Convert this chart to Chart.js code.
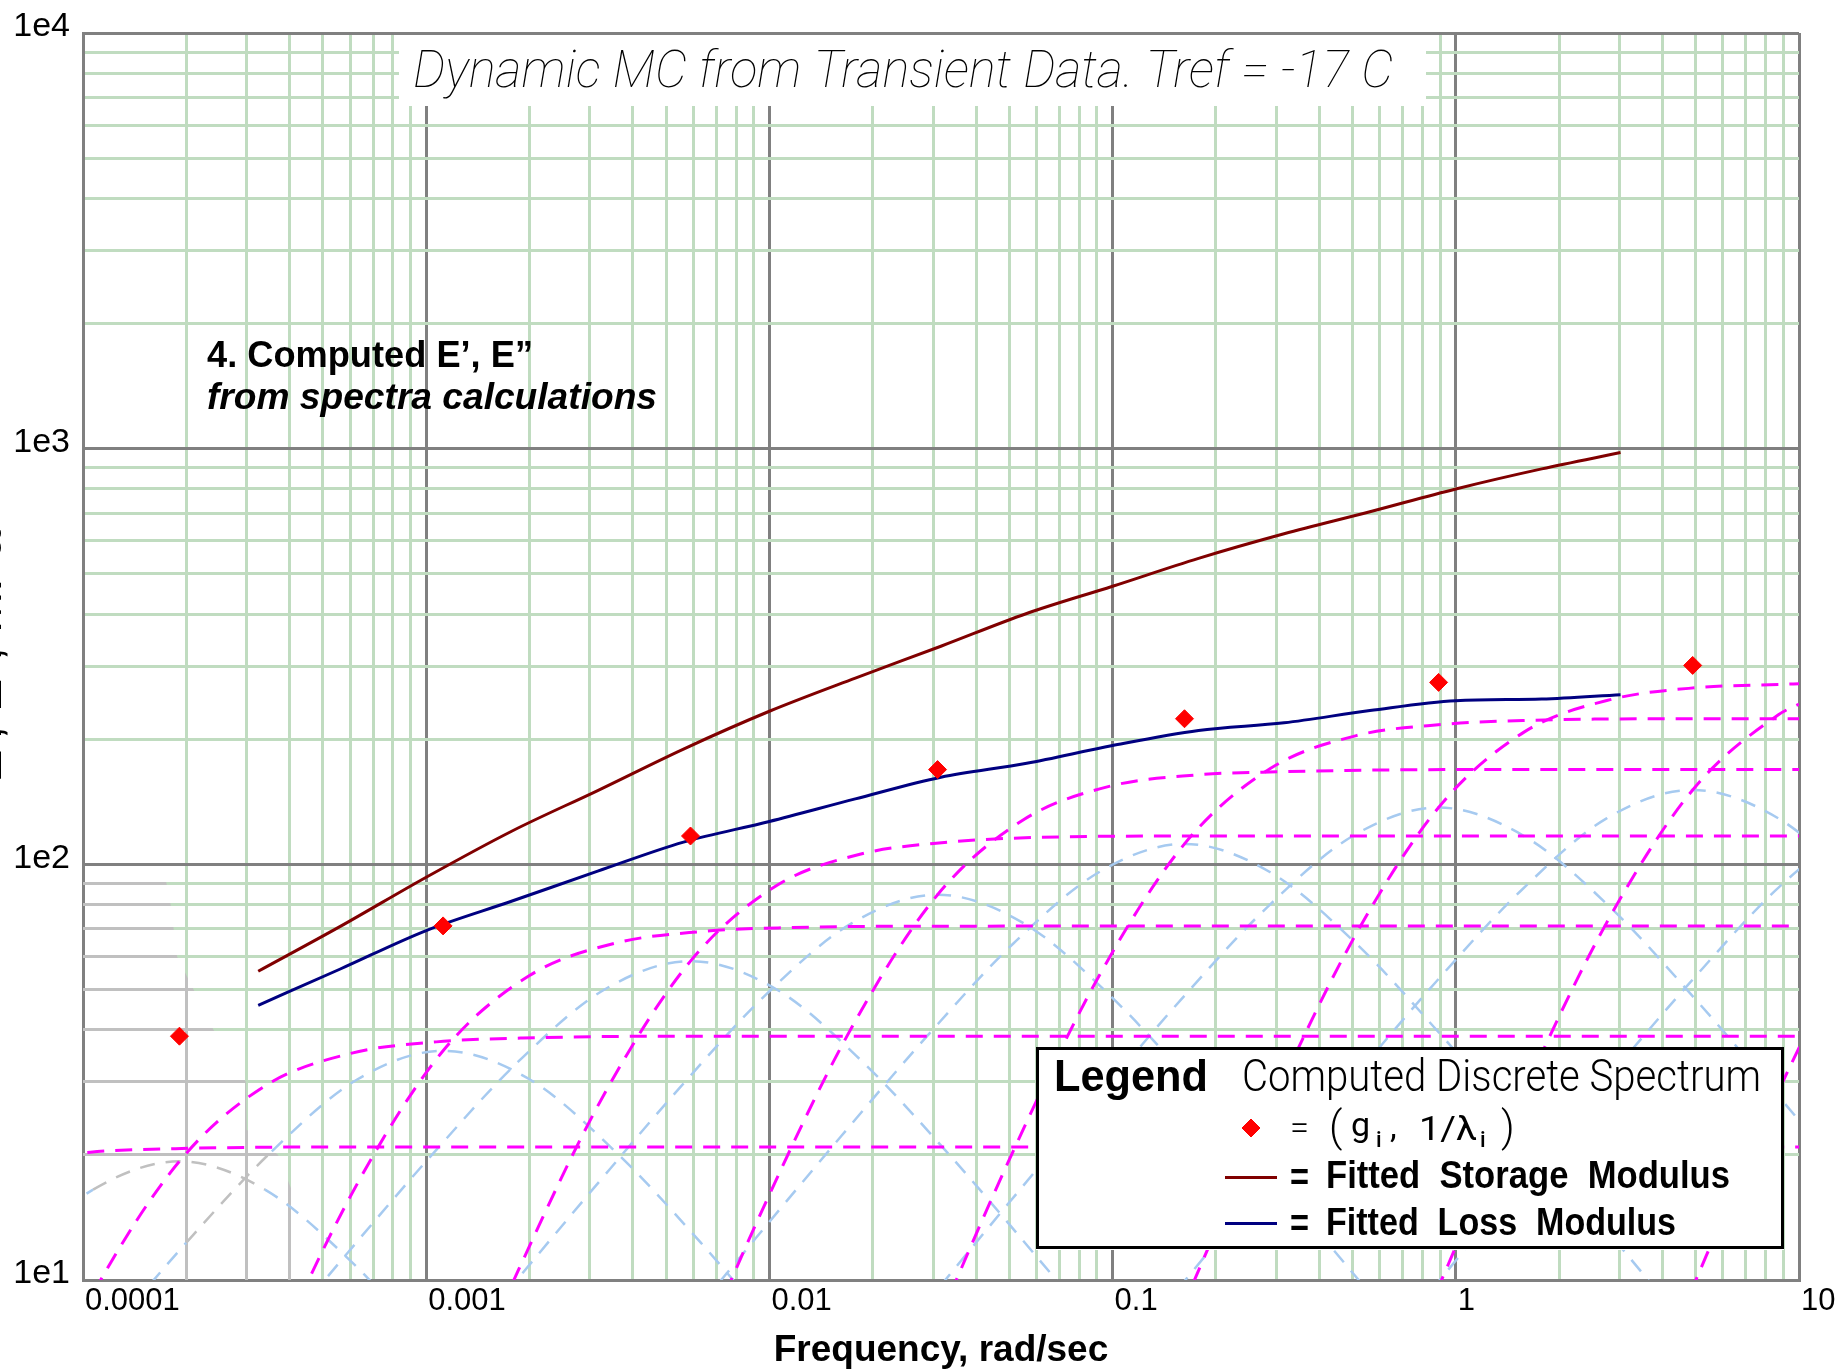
<!DOCTYPE html>
<html lang="en">
<head>
<meta charset="utf-8">
<title>Dynamic MC from Transient Data</title>
<script src="https://cdn.jsdelivr.net/npm/chart.js@4.4.1/dist/chart.umd.min.js"></script>
<style>
    html, body { margin: 0; padding: 0; background: #ffffff; }
    #chartBox { width: 1838px; height: 1370px; }
</style>
</head>
<body>
<div id="chartBox"><canvas id="modulusChart" width="1838" height="1370"></canvas></div>
<script>
// Axis decades and the labels printed at them
const xDecades = [1e-4, 1e-3, 1e-2, 1e-1, 1, 10];
const xTickLabels = ["0.0001", "0.001", "0.01", "0.1", "1", "10"];
const yDecades = [1e1, 1e2, 1e3, 1e4];
const yTickLabels = ["1e1", "1e2", "1e3", "1e4"];

// Computed discrete spectrum: 1/lambda_i (rad/sec) against g_i
const spectrumFreq = [1.91e-4, 1.12e-3, 5.89e-3, 3.09e-2, 0.162, 0.891, 4.9];
const spectrumG = [38.6, 71.1, 117, 169, 224, 274, 301];

// Fitted E' (storage) and E'' (loss)
const fitFreq = [3.24e-4, 5.62e-4, 1e-3, 1.78e-3, 3.16e-3, 5.62e-3, 0.01, 0.0178, 0.0316, 0.0562, 0.1, 0.178, 0.316, 0.562, 1, 1.78, 3.02];
const fitStorage = [55.3, 70.9, 93.1, 120.3, 150.5, 189.4, 233.5, 280.6, 334.7, 401.3, 466.7, 544.7, 624.2, 704.9, 799.9, 894.0, 978.7];
const fitLoss = [45.8, 56.0, 69.3, 81.6, 96.3, 113.1, 126.8, 143.7, 162.0, 175.0, 193.1, 209.9, 219.0, 234.4, 247.6, 249.8, 256.0];

// Storage part of each spectrum line, [freq, modulus]
const storageLine0 = [[5.89e-5, 19.0], [1.05e-4, 20.3], [1.86e-4, 20.7], [5.89e-4, 20.9], [10, 20.9]];
const storageLine1 = [[3.39e-5, 1.18], [6.03e-5, 3.51], [1.07e-4, 9.28], [1.91e-4, 19.3], [3.39e-4, 29.3], [6.03e-4, 35.1], [1.07e-3, 37.4], [1.91e-3, 38.2], [6.03e-3, 38.6], [10, 38.6]];
const storageLine2 = [[2.0e-4, 2.18], [3.55e-4, 6.46], [6.31e-4, 17.1], [1.12e-3, 35.6], [2.0e-3, 54.0], [3.55e-3, 64.6], [6.31e-3, 68.9], [1.12e-2, 70.4], [3.55e-2, 71.0], [10, 71.1]];
const storageLine3 = [[5.89e-4, 1.16], [1.05e-3, 3.58], [1.86e-3, 10.6], [3.31e-3, 28.1], [5.89e-3, 58.5], [1.05e-2, 88.9], [1.86e-2, 106], [3.31e-2, 113], [5.89e-2, 116], [0.186, 117], [10, 117]];
const storageLine4 = [[3.09e-3, 1.67], [5.5e-3, 5.17], [9.77e-3, 15.4], [1.74e-2, 40.6], [3.09e-2, 84.5], [5.5e-2, 128], [9.77e-2, 154], [0.174, 164], [0.309, 167], [0.977, 169], [10, 169]];
const storageLine5 = [[1.62e-2, 2.22], [2.88e-2, 6.85], [5.13e-2, 20.4], [9.12e-2, 53.8], [0.162, 112], [0.288, 170], [0.513, 204], [0.912, 217], [1.62, 222], [5.13, 224], [10, 224]];
const storageLine6 = [[8.91e-2, 2.71], [0.158, 8.38], [0.282, 24.9], [0.501, 65.8], [0.891, 137], [1.58, 208], [2.82, 249], [5.01, 266], [8.91, 271], [10, 272]];
const storageLine7 = [[0.49, 2.98], [0.871, 9.21], [1.55, 27.4], [2.75, 72.3], [4.9, 151], [8.71, 229], [10, 243]];
const storageLine8 = [[2.69, 2.97], [4.79, 9.18], [8.51, 27.3], [15.1, 72.1]];

// Loss part of each spectrum line, [freq, modulus]
const lossLine1 = [[3.39e-5, 6.65], [6.03e-5, 11.1], [1.07e-4, 16.5], [1.91e-4, 19.3], [3.39e-4, 16.5], [6.03e-4, 11.1], [1.07e-3, 6.65]];
const lossLine2 = [[1.12e-4, 7.04], [2.0e-4, 12.3], [3.55e-4, 20.4], [6.31e-4, 30.4], [1.12e-3, 35.6], [2.0e-3, 30.4], [3.55e-3, 20.4], [6.31e-3, 12.3], [1.12e-2, 7.04]];
const lossLine3 = [[3.31e-4, 6.56], [5.89e-4, 11.6], [1.05e-3, 20.2], [1.86e-3, 33.6], [3.31e-3, 50.0], [5.89e-3, 58.5], [1.05e-2, 50.0], [1.86e-2, 33.6], [3.31e-2, 20.2], [5.89e-2, 11.6], [0.105, 6.56]];
const lossLine4 = [[9.77e-4, 5.34], [1.74e-3, 9.48], [3.09e-3, 16.7], [5.5e-3, 29.1], [9.77e-3, 48.6], [1.74e-2, 72.2], [3.09e-2, 84.5], [5.5e-2, 72.2], [9.77e-2, 48.6], [0.174, 29.1], [0.309, 16.7], [0.55, 9.48], [0.977, 5.34]];
const lossLine5 = [[5.13e-3, 7.08], [9.12e-3, 12.6], [1.62e-2, 22.2], [2.88e-2, 38.6], [5.13e-2, 64.4], [9.12e-2, 95.7], [0.162, 112], [0.288, 95.7], [0.513, 64.4], [0.912, 38.6], [1.62, 22.2], [2.88, 12.6], [5.13, 7.08]];
const lossLine6 = [[2.82e-2, 8.66], [5.01e-2, 15.4], [8.91e-2, 27.1], [0.158, 47.2], [0.282, 78.8], [0.501, 117], [0.891, 137], [1.58, 117], [2.82, 78.8], [5.01, 47.2], [8.91, 27.1], [15.8, 15.4]];
const lossLine7 = [[0.155, 9.51], [0.275, 16.9], [0.49, 29.8], [0.871, 51.9], [1.55, 86.5], [2.75, 129], [4.9, 151], [8.71, 129], [15.5, 86.5]];
const lossLine8 = [[0.851, 9.48], [1.51, 16.8], [2.69, 29.7], [4.79, 51.7], [8.51, 86.3], [15.1, 128]];

// Lower-left patch where grid and loss traces come out grey, [freq, modulus]
const greyPatch = [[1e-4, 97], [1.72e-4, 97], [1.8e-4, 80], [1.88e-4, 60], [2.1e-4, 50], [2.4e-4, 40], [2.98e-4, 30], [3.0e-4, 23], [3.7e-4, 20], [4.05e-4, 16.5], [4.05e-4, 10], [1e-4, 10]];

const AXIS_GRAY = "#808080";
const GRID_GREEN = "#c0dcc0";
const PATCH_GRAY = "#c0c0c0";
const MAGENTA = "#ff00ff";
const SKY = "#a6caf0";
const STORAGE_RED = "#800000";
const LOSS_NAVY = "#000080";
const POINT_RED = "#ff0000";

const NARROW = '"Liberation Sans Narrow", "Arial Narrow", "Liberation Sans", Arial, sans-serif';
const ARIAL = '"Liberation Sans", Arial, sans-serif';
const LIGHT = 'Roboto, "Open Sans", "Liberation Sans", sans-serif';

let greyPatchPx = [];

function isDecade(value, decades) {
    return decades.some((d) => Math.abs(value / d - 1) < 1e-6);
}

function logTicks(decades) {
    const values = [];
    decades.forEach((d, i) => {
        if (i === decades.length - 1) {
            values.push(d);
            return;
        }
        for (let m = 1; m < 10; m++) values.push(d * m);
    });
    return values.map((value) => ({ value }));
}

function decadeLabel(value, decades, labels) {
    const i = decades.findIndex((d) => Math.abs(value / d - 1) < 1e-6);
    return i >= 0 ? labels[i] : "";
}

const toPoints = (pairs) => pairs.map(([x, y]) => ({ x, y }));

function insidePatch(px, py) {
    let inside = false;
    for (let i = 0, j = greyPatchPx.length - 1; i < greyPatchPx.length; j = i++) {
        const [xi, yi] = greyPatchPx[i];
        const [xj, yj] = greyPatchPx[j];
        if (yi > py !== yj > py && px < ((xj - xi) * (py - yi)) / (yj - yi) + xi) {
            inside = !inside;
        }
    }
    return inside;
}

// draw text squeezed or stretched to a given width
function fitText(ctx, text, x, y, width, font) {
    ctx.save();
    ctx.font = font;
    const w = ctx.measureText(text).width;
    ctx.translate(x, y);
    ctx.scale(width / w, 1);
    ctx.fillText(text, 0, 0);
    ctx.restore();
}

function plainText(ctx, text, x, y, font) {
    ctx.font = font;
    ctx.fillText(text, x, y);
}

const alignLine = (px, width) => Math.round(px - width / 2) + width / 2;

const decorPlugin = {
    id: "decor",
    afterLayout(chart) {
        const { x, y } = chart.scales;
        greyPatchPx = greyPatch.map(([f, g]) => [x.getPixelForValue(f), y.getPixelForValue(g)]);
    },
    beforeDatasetsDraw(chart) {
        const { ctx, chartArea, scales } = chart;

        // grey grid inside the lower-left patch
        ctx.save();
        ctx.beginPath();
        greyPatchPx.forEach(([px, py], i) => (i ? ctx.lineTo(px, py) : ctx.moveTo(px, py)));
        ctx.closePath();
        ctx.clip();
        ctx.strokeStyle = PATCH_GRAY;
        ctx.lineWidth = 3;
        ctx.beginPath();
        scales.x.ticks.forEach((t) => {
            if (isDecade(t.value, xDecades)) return;
            const px = alignLine(scales.x.getPixelForValue(t.value), 3);
            ctx.moveTo(px, chartArea.top);
            ctx.lineTo(px, chartArea.bottom);
        });
        scales.y.ticks.forEach((t) => {
            if (isDecade(t.value, yDecades)) return;
            const py = alignLine(scales.y.getPixelForValue(t.value), 3);
            ctx.moveTo(chartArea.left, py);
            ctx.lineTo(chartArea.right, py);
        });
        ctx.stroke();
        ctx.restore();

        // title panel
        ctx.save();
        ctx.fillStyle = "#ffffff";
        ctx.fillRect(399, chartArea.top + 2, 1027, 71);
        ctx.fillStyle = "#000000";
        ctx.textBaseline = "alphabetic";
        fitText(ctx, "Dynamic MC from Transient Data. Tref = -17 C", 413, 87, 980, `italic 100 52px ${LIGHT}`);
        ctx.restore();
    },
    afterDatasetsDraw(chart) {
        const { ctx } = chart;
        ctx.save();
        ctx.fillStyle = "#000000";
        ctx.textBaseline = "alphabetic";
        fitText(ctx, "4. Computed E\u2019, E\u201d", 207, 367, 326, `bold 36px ${ARIAL}`);
        fitText(ctx, "from spectra calculations", 207, 409, 450, `italic bold 36px ${ARIAL}`);
        ctx.restore();
    },
    afterDraw(chart) {
        const { ctx } = chart;
        const [spectrum, storage, loss] = chart.data.datasets;
        ctx.save();
        ctx.fillStyle = "#ffffff";
        ctx.fillRect(1036, 1047, 748, 203);
        ctx.strokeStyle = "#000000";
        ctx.lineWidth = 3;
        ctx.strokeRect(1037.5, 1048.5, 745, 199);

        ctx.fillStyle = "#000000";
        ctx.textBaseline = "alphabetic";
        fitText(ctx, "Legend", 1054, 1091, 154, `bold 45px ${NARROW}`);
        fitText(ctx, "Computed Discrete Spectrum", 1242, 1091, 519, `300 44px ${LIGHT}`);

        // spectrum marker row
        ctx.fillStyle = spectrum.pointBackgroundColor;
        ctx.strokeStyle = spectrum.pointBorderColor;
        ctx.lineWidth = spectrum.pointBorderWidth;
        Chart.helpers.drawPoint(ctx, { pointStyle: spectrum.pointStyle, radius: spectrum.pointRadius, rotation: 0, borderWidth: 1 }, 1251, 1128);
        ctx.fillStyle = "#000000";
        fitText(ctx, "=", 1290, 1139, 19, `300 34px ${LIGHT}`);
        plainText(ctx, "(", 1329, 1141, `300 42px ${LIGHT}`);
        plainText(ctx, "g", 1351, 1136, `400 34px ${LIGHT}`);
        plainText(ctx, "i", 1376, 1147, `500 22px ${LIGHT}`);
        plainText(ctx, ",", 1390, 1138, `400 34px ${LIGHT}`);
        fitText(ctx, "1/\u03bb", 1419, 1140, 58, `400 34px ${LIGHT}`);
        plainText(ctx, "i", 1480, 1147, `500 22px ${LIGHT}`);
        plainText(ctx, ")", 1501, 1141, `300 42px ${LIGHT}`);

        // fitted curve rows
        ctx.lineWidth = 3;
        ctx.strokeStyle = storage.borderColor;
        ctx.beginPath();
        ctx.moveTo(1225, 1177.5);
        ctx.lineTo(1277, 1177.5);
        ctx.stroke();
        ctx.strokeStyle = loss.borderColor;
        ctx.beginPath();
        ctx.moveTo(1225, 1223.5);
        ctx.lineTo(1277, 1223.5);
        ctx.stroke();

        fitText(ctx, "=", 1290, 1190, 19, `bold 38px ${NARROW}`);
        fitText(ctx, "Fitted  Storage  Modulus", 1326, 1188, 404, `bold 38px ${NARROW}`);
        fitText(ctx, "=", 1290, 1236, 19, `bold 38px ${NARROW}`);
        fitText(ctx, "Fitted  Loss  Modulus", 1326, 1235, 350, `bold 38px ${NARROW}`);
        ctx.restore();
    },
};

const storageLines = [storageLine0, storageLine1, storageLine2, storageLine3, storageLine4, storageLine5, storageLine6, storageLine7, storageLine8];
const lossLines = [lossLine1, lossLine2, lossLine3, lossLine4, lossLine5, lossLine6, lossLine7, lossLine8];

const datasets = [
    {
        label: "Computed Discrete Spectrum",
        data: spectrumFreq.map((f, i) => ({ x: f, y: spectrumG[i] })),
        showLine: false,
        pointStyle: "rectRot",
        pointRadius: 9,
        pointBackgroundColor: POINT_RED,
        pointBorderColor: POINT_RED,
        pointBorderWidth: 1,
        order: 0,
    },
    {
        label: "Fitted Storage Modulus",
        data: fitFreq.map((f, i) => ({ x: f, y: fitStorage[i] })),
        borderColor: STORAGE_RED,
        borderWidth: 3,
        pointRadius: 0,
        cubicInterpolationMode: "monotone",
        order: 1,
    },
    {
        label: "Fitted Loss Modulus",
        data: fitFreq.map((f, i) => ({ x: f, y: fitLoss[i] })),
        borderColor: LOSS_NAVY,
        borderWidth: 3,
        pointRadius: 0,
        cubicInterpolationMode: "monotone",
        order: 1,
    },
    ...storageLines.map((line) => ({
        data: toPoints(line),
        borderColor: MAGENTA,
        borderWidth: 3,
        borderDash: [17, 11],
        pointRadius: 0,
        cubicInterpolationMode: "monotone",
        order: 2,
    })),
    ...lossLines.map((line) => ({
        data: toPoints(line),
        borderColor: SKY,
        borderWidth: 2.5,
        borderDash: [15, 11],
        pointRadius: 0,
        cubicInterpolationMode: "monotone",
        order: 3,
        segment: {
            borderColor: (s) =>
                insidePatch((s.p0.x + s.p1.x) / 2, (s.p0.y + s.p1.y) / 2) ? PATCH_GRAY : undefined,
        },
    })),
];

const ctx = document.getElementById("modulusChart").getContext("2d");

new Chart(ctx, {
    type: "line",
    data: { datasets },
    plugins: [decorPlugin],
    options: {
        responsive: false,
        devicePixelRatio: 1,
        animation: false,
        events: [],
        layout: { padding: { top: 33, right: 39, bottom: 0, left: 0 } },
        plugins: {
            legend: { display: false },
            tooltip: { enabled: false },
        },
        scales: {
            x: {
                type: "logarithmic",
                min: 1e-4,
                max: 10,
                afterBuildTicks: (scale) => {
                    scale.ticks = logTicks(xDecades);
                },
                afterFit: (scale) => {
                    scale.height = 90;
                    scale.paddingLeft = 0;
                    scale.paddingRight = 0;
                },
                grid: {
                    color: (c) => (c.tick && isDecade(c.tick.value, xDecades) ? AXIS_GRAY : GRID_GREEN),
                    lineWidth: 3,
                    drawTicks: false,
                },
                border: { color: AXIS_GRAY, width: 3 },
                ticks: {
                    autoSkip: false,
                    maxRotation: 0,
                    minRotation: 0,
                    align: "start",
                    labelOffset: 2,
                    padding: 4,
                    color: "#000000",
                    font: { family: NARROW, size: 31, lineHeight: 1.1 },
                    callback: (v) => decadeLabel(v, xDecades, xTickLabels),
                },
                title: {
                    display: true,
                    text: "Frequency, rad/sec",
                    color: "#000000",
                    font: { family: NARROW, size: 37, weight: "bold", lineHeight: 1 },
                    padding: { top: 0, bottom: 1 },
                },
            },
            y: {
                type: "logarithmic",
                min: 10,
                max: 10000,
                afterBuildTicks: (scale) => {
                    scale.ticks = logTicks(yDecades);
                },
                afterFit: (scale) => {
                    scale.width = 83;
                    scale.paddingTop = 0;
                    scale.paddingBottom = 0;
                },
                grid: {
                    color: (c) => (c.tick && isDecade(c.tick.value, yDecades) ? AXIS_GRAY : GRID_GREEN),
                    lineWidth: 3,
                    drawTicks: false,
                },
                border: { color: AXIS_GRAY, width: 3 },
                ticks: {
                    autoSkip: false,
                    padding: 13,
                    labelOffset: -6,
                    color: "#000000",
                    font: { family: NARROW, size: 34 },
                    callback: (v) => decadeLabel(v, yDecades, yTickLabels),
                },
                title: {
                    display: true,
                    text: "E', E\", MPa",
                    color: "#000000",
                    font: { family: NARROW, size: 50, lineHeight: 1 },
                    padding: { top: -38, bottom: 0 },
                },
            },
        },
    },
});
</script>
</body>
</html>
